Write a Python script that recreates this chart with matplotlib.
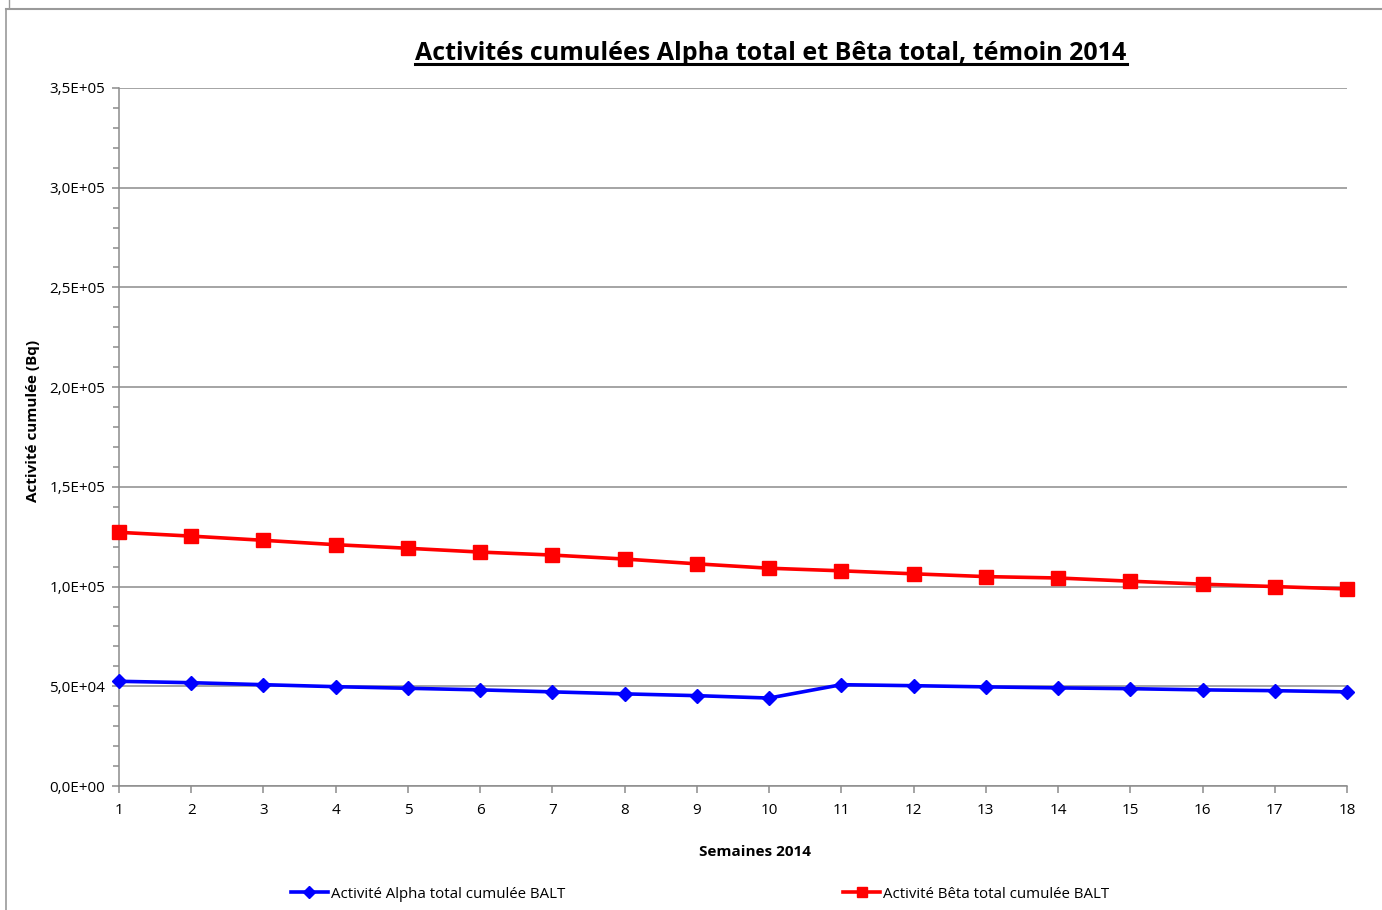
import matplotlib.pyplot as plt
from matplotlib.lines import Line2D
from matplotlib.ticker import FuncFormatter, MultipleLocator

# --- Data ---
weeks = list(range(1, 19))
alpha_cumul = [52500, 51800, 50800, 49800, 49000, 48200, 47200, 46200, 45300,
               44100, 50800, 50300, 49700, 49200, 48800, 48200, 47800, 47200]
beta_cumul = [127200, 125300, 123200, 121000, 119200, 117300, 115800, 113800, 111400,
              109200, 107900, 106400, 105000, 104300, 102700, 101200, 100000, 98800]

title = "Activités cumulées Alpha total et Bêta total, témoin 2014"
xlabel = "Semaines 2014"
ylabel = "Activité cumulée (Bq)"
alpha_label = "Activité Alpha total cumulée BALT"
beta_label = "Activité Bêta total cumulée BALT"

plt.rcParams["font.family"] = ["Open Sans", "DejaVu Sans"]

W, H = 1382, 910
fig = plt.figure(figsize=(W / 100, H / 100), dpi=100)
ax = fig.add_axes([119 / W, 1 - 786 / H, (1347 - 119) / W, (786 - 88) / H])

ax.plot(weeks, alpha_cumul, color="#0000FF", lw=2.6, marker="D", ms=7.5,
        label=alpha_label, clip_on=False, zorder=4)
ax.plot(weeks, beta_cumul, color="#FF0000", lw=2.6, marker="s", ms=9.5,
        label=beta_label, clip_on=False, zorder=4)

ax.set_xlim(1, 18)
ax.set_ylim(0, 3.5e5)
ax.set_xticks(weeks)
ax.yaxis.set_major_locator(MultipleLocator(5e4))
ax.yaxis.set_minor_locator(MultipleLocator(1e4))
ax.yaxis.set_major_formatter(FuncFormatter(lambda v, p: f"{v:.1E}".replace(".", ",")))

ax.grid(axis="y", color="#8c8c8c", lw=1.1)
ax.set_axisbelow(True)
for s in ["top", "right"]:
    ax.spines[s].set_visible(False)
for s in ["left", "bottom"]:
    ax.spines[s].set_color("#8c8c8c")
    ax.spines[s].set_linewidth(1.1)
ax.tick_params(axis="both", which="both", color="#8c8c8c", width=1.1,
               direction="out", labelsize=11, labelcolor="black")
ax.tick_params(axis="both", which="major", length=5)
ax.tick_params(axis="y", which="minor", length=4)
ax.tick_params(axis="x", pad=7)
ax.tick_params(axis="y", pad=5)

# axis titles placed like the original
fig.text(755 / W, 1 - 852 / H, xlabel, ha="center", va="center",
         fontsize=11, fontweight="bold")
fig.text(33 / W, 1 - 421 / H, ylabel, ha="center", va="center", rotation=90,
         fontsize=11, fontweight="bold")

# title with underline
t = fig.text(771 / W, 1 - 53 / H, title, ha="center", va="center",
             fontsize=18, fontweight="bold")
fig.canvas.draw()
bb = t.get_window_extent(fig.canvas.get_renderer())
fig.add_artist(Line2D([bb.x0 / W, bb.x1 / W], [(bb.y0 + 2) / H, (bb.y0 + 2) / H],
                      color="black", lw=2.2))

# legend
handles = [Line2D([], [], color="#0000FF", lw=2.6, marker="D", ms=6),
           Line2D([], [], color="#FF0000", lw=2.6, marker="s", ms=7.5)]
fig.legend(handles, [alpha_label, beta_label], loc="center", ncol=2,
           bbox_to_anchor=(700 / W, 1 - 894 / H), frameon=False, fontsize=10.8,
           handlelength=2.5, handletextpad=0.2, columnspacing=18.5)

# outer chart frame
fig.add_artist(Line2D([6 / W, 1], [1 - 9 / H, 1 - 9 / H], color="#9a9a9a", lw=1.5))
fig.add_artist(Line2D([6 / W, 6 / W], [0, 1 - 9 / H], color="#9a9a9a", lw=1.2))
fig.add_artist(Line2D([9 / W, 9 / W], [1 - 8 / H, 1], color="#9a9a9a", lw=1.0))

fig.savefig("out.png", dpi=100)
